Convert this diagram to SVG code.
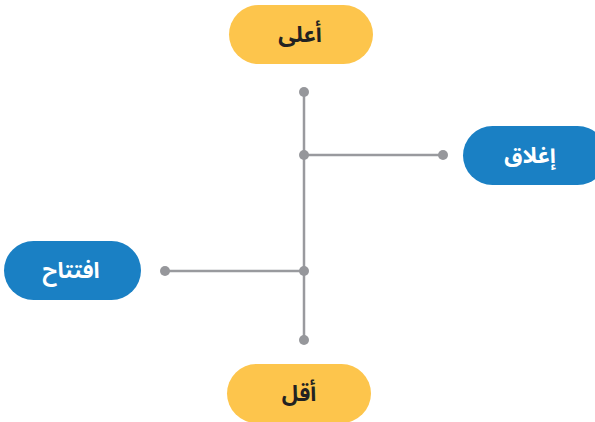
<svg xmlns="http://www.w3.org/2000/svg" width="595" height="422" viewBox="0 0 595 422">
<style>
.yel{fill:#FDC54C}
.blu{fill:#1A80C4}
.t{font-family:"Noto Sans Arabic","Noto Sans","DejaVu Sans",sans-serif;font-weight:bold;font-size:22px;text-anchor:middle;dominant-baseline:central}
.dk{fill:#222}
.wh{fill:#fff}
.ln{stroke:#999A9E;stroke-width:2.5;fill:none}
.dot{fill:#96979B}
</style>
<rect width="595" height="422" fill="#fff"/>
<g id="connectors">
<line class="ln" x1="304" y1="92" x2="304" y2="340"/>
<line class="ln" x1="304" y1="155" x2="443" y2="155"/>
<line class="ln" x1="165" y1="271" x2="304" y2="271"/>
<circle class="dot" cx="304" cy="92" r="5"/>
<circle class="dot" cx="304" cy="155" r="5"/>
<circle class="dot" cx="443" cy="155" r="5"/>
<circle class="dot" cx="304" cy="271" r="5"/>
<circle class="dot" cx="165" cy="271" r="5"/>
<circle class="dot" cx="304" cy="340" r="5"/>
</g>
<g id="high">
<rect class="yel" x="229" y="5" width="144" height="59" rx="29.5"/>
<text class="t dk" x="300" y="35">أعلى</text>
</g>
<g id="close">
<rect class="blu" x="463" y="126" width="144" height="59" rx="29.5"/>
<text class="t wh" x="530" y="156">إغلاق</text>
</g>
<g id="open">
<rect class="blu" x="4" y="241" width="137" height="59" rx="29.5"/>
<text class="t wh" x="71" y="271">افتتاح</text>
</g>
<g id="low">
<rect class="yel" x="227" y="364" width="144" height="59" rx="29.5"/>
<text class="t dk" x="299" y="394">أقل</text>
</g>
</svg>
